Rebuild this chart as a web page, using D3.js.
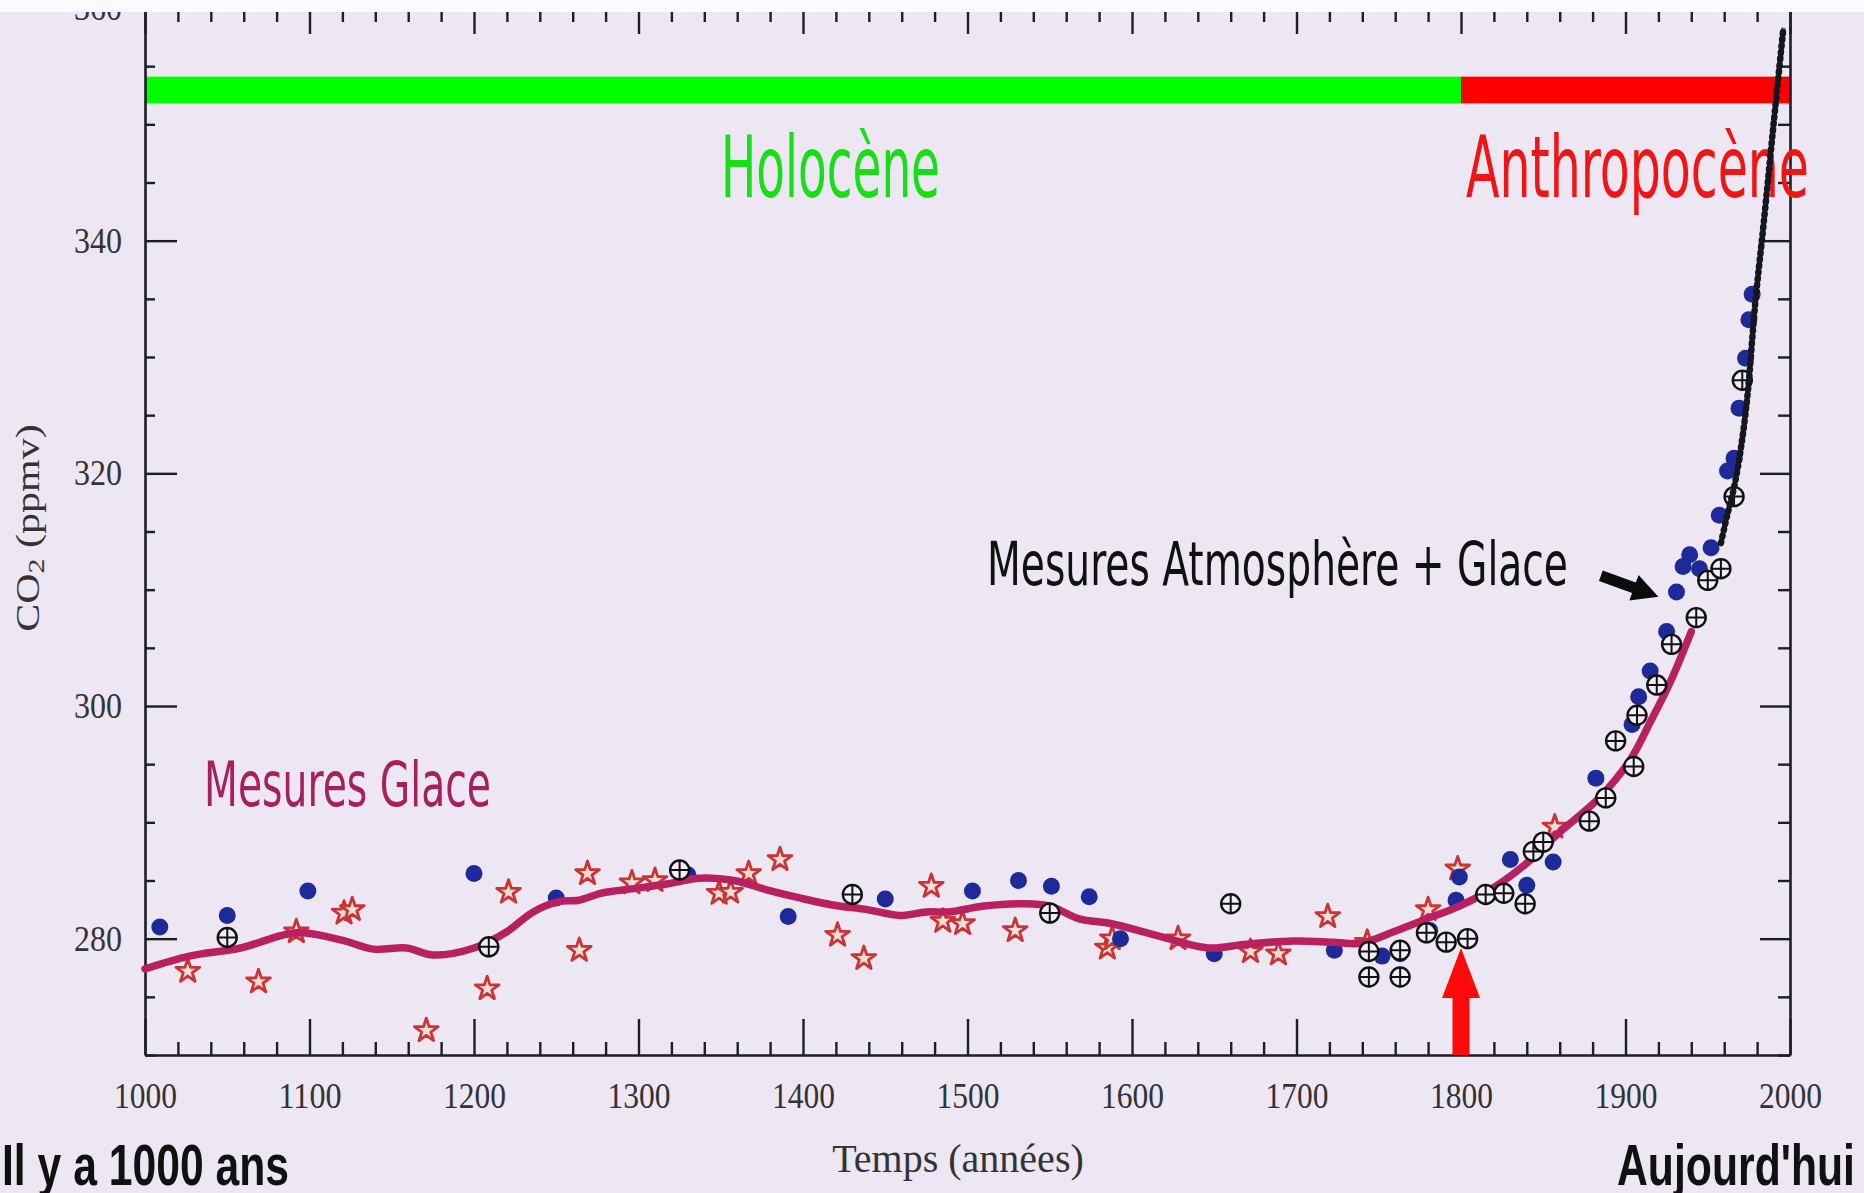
<!DOCTYPE html>
<html>
<head>
<meta charset="utf-8">
<script src="https://cdn.jsdelivr.net/npm/d3@7"></script>
<style>
body { margin: 0; background: #ece8f3; }
svg { display: block; }
</style>
</head>
<body>
<svg id="chart" width="1864" height="1193"></svg>
<script>
// axis ticks
var xMajor = [1000, 1100, 1200, 1300, 1400, 1500, 1600, 1700, 1800, 1900, 2000];
var xLabels = ["1000", "1100", "1200", "1300", "1400", "1500", "1600", "1700", "1800", "1900", "2000"];
var yMajor = [280, 300, 320, 340, 360];
var yLabels = ["280", "300", "320", "340", "360"];

// periods (bar on top)
var periodNames = ["Holocène", "Anthropocène"];
var periodStart = [1000, 1800];
var periodEnd = [1800, 2000];
var periodColors = ["#00ff00", "#ff0000"];
var periodText = ["#14e014", "#f01414"];

// ice core smoothed curve
var splineYears = [1000, 1027, 1058, 1092, 1119, 1139, 1159, 1175, 1200, 1220, 1236, 1252, 1264, 1277, 1297, 1317, 1337, 1358, 1378, 1398, 1418, 1439, 1459, 1475, 1489, 1510, 1534, 1550, 1568, 1587, 1617, 1647, 1668, 1698, 1722, 1739, 1759, 1779, 1799, 1820, 1840, 1858, 1884, 1903, 1915, 1927, 1940];
var splineCO2 = [277.4, 278.5, 279.2, 280.5, 279.9, 279.1, 279.2, 278.6, 279.2, 280.6, 282.3, 283.2, 283.3, 283.9, 284.3, 284.7, 285.2, 285.0, 284.2, 283.5, 282.9, 282.5, 282.0, 282.3, 282.3, 282.8, 283.0, 282.8, 281.7, 281.3, 280.2, 279.2, 279.5, 279.8, 279.7, 279.6, 280.6, 281.7, 282.8, 284.4, 286.5, 288.9, 292.1, 295.4, 298.6, 302.0, 306.4];

// atmospheric record (dotted dark line)
var maunaYears = [1958, 1962, 1966, 1970, 1974, 1979, 1984, 1990, 1996];
var maunaCO2 = [314.0, 316.5, 318.8, 322.0, 326.5, 334.8, 341.5, 350.0, 358.3];

// blue filled dots
var blueYears = [1009, 1050, 1099, 1200, 1250, 1330, 1391, 1450, 1503, 1531, 1551, 1574, 1593, 1650, 1723, 1752, 1763, 1781, 1797, 1799, 1830, 1840, 1856, 1882, 1904, 1908, 1915, 1925, 1931, 1935, 1939, 1945, 1952, 1957, 1962, 1966, 1969, 1973, 1975, 1977];
var blueCO2 = [281.0, 282.0, 284.1, 285.6, 283.5, 285.5, 281.9, 283.4, 284.1, 285.0, 284.5, 283.6, 280.0, 278.7, 279.0, 278.5, 278.7, 280.7, 283.3, 285.3, 286.8, 284.6, 286.6, 293.8, 298.4, 300.8, 303.0, 306.4, 309.8, 312.0, 313.0, 311.8, 313.6, 316.4, 320.2, 321.3, 325.6, 329.9, 333.2, 335.4];

// red stars
var starYears = [1026, 1069, 1092, 1121, 1126, 1171, 1208, 1221, 1264, 1269, 1296, 1310, 1349, 1356, 1367, 1386, 1421, 1437, 1478, 1485, 1497, 1529, 1585, 1588, 1628, 1672, 1689, 1719, 1743, 1780, 1798, 1857];
var starCO2 = [277.2, 276.3, 280.6, 282.2, 282.5, 272.1, 275.7, 284.0, 279.0, 285.6, 284.8, 285.0, 283.9, 284.0, 285.6, 286.8, 280.3, 278.3, 284.5, 281.5, 281.3, 280.7, 279.2, 280.0, 280.0, 278.9, 278.7, 281.9, 279.7, 282.5, 286.0, 289.6];

// circled crosses
var crossYears = [1050, 1209, 1325, 1430, 1550, 1660, 1744, 1744, 1763, 1763, 1779, 1791, 1804, 1815, 1826, 1839, 1844, 1850, 1878, 1888, 1894, 1905, 1907, 1919, 1928, 1943, 1950, 1958, 1966, 1971];
var crossCO2 = [280.1, 279.3, 285.9, 283.8, 282.2, 283.0, 278.9, 276.7, 279.0, 276.7, 280.5, 279.7, 280.0, 283.8, 283.9, 283.0, 287.5, 288.3, 290.1, 292.1, 297.0, 294.8, 299.2, 301.8, 305.3, 307.6, 310.8, 311.8, 318.0, 328.0];

var svg = d3.select("#chart");
var x = d3.scaleLinear().domain([1000, 2000]).range([145, 1790]);
var y = d3.scaleLinear().domain([270, 360]).range([1055, 8]);
var axisColor = "#1e1e26";

svg.append("rect").attr("width", 1864).attr("height", 1193).attr("fill", "#ece7f3");

//period bars
svg.selectAll(".period")
	.data(periodNames)
	.enter()
	.append("rect")
	.attr("x", function (d, i) { return x(periodStart[i]); })
	.attr("width", function (d, i) { return x(periodEnd[i]) - x(periodStart[i]); })
	.attr("y", y(354.1))
	.attr("height", y(351.8) - y(354.1))
	.attr("fill", function (d, i) { return periodColors[i]; });

function styleAxis(g, keepDomain) {
	if (keepDomain) {
		g.select(".domain").attr("stroke", axisColor).attr("stroke-width", 2.6);
	} else {
		g.select(".domain").remove();
	}
	g.selectAll(".tick line").attr("stroke", axisColor).attr("stroke-width", 2.4);
}

//minor ticks
var xMinor = d3.range(1000, 2001, 20).filter(function (v) { return v % 100 != 0; });
var yMinor = d3.range(270, 361, 5).filter(function (v) { return v % 20 != 0; });

svg.append("g").attr("transform", "translate(0," + y(270) + ")")
	.call(d3.axisBottom(x).tickValues(xMinor).tickSize(-13).tickSizeOuter(0).tickFormat(""))
	.call(styleAxis, false);
svg.append("g").attr("transform", "translate(0," + y(360) + ")")
	.call(d3.axisTop(x).tickValues(xMinor).tickSize(-14).tickSizeOuter(0).tickFormat(""))
	.call(styleAxis, false);
svg.append("g").attr("transform", "translate(" + x(1000) + ",0)")
	.call(d3.axisLeft(y).tickValues(yMinor).tickSize(-10).tickSizeOuter(0).tickFormat(""))
	.call(styleAxis, false);
svg.append("g").attr("transform", "translate(" + x(2000) + ",0)")
	.call(d3.axisRight(y).tickValues(yMinor).tickSize(-12).tickSizeOuter(0).tickFormat(""))
	.call(styleAxis, false);

//major ticks + labels
var bottomAxis = svg.append("g").attr("transform", "translate(0," + y(270) + ")")
	.call(d3.axisBottom(x).tickValues(xMajor).tickSize(-36).tickSizeOuter(0).tickPadding(27)
		.tickFormat(function (d, i) { return xLabels[i]; }))
	.call(styleAxis, true);
bottomAxis.selectAll("text")
	.attr("font-family", "'Liberation Serif', 'DejaVu Serif', serif")
	.attr("font-size", 36)
	.attr("fill", "#333")
	.attr("textLength", 63)
	.attr("lengthAdjust", "spacingAndGlyphs");

svg.append("g").attr("transform", "translate(0," + y(360) + ")")
	.call(d3.axisTop(x).tickValues(xMajor).tickSize(-26).tickSizeOuter(0).tickFormat(""))
	.call(styleAxis, true);

var leftAxis = svg.append("g").attr("transform", "translate(" + x(1000) + ",0)")
	.call(d3.axisLeft(y).tickValues(yMajor).tickSize(-32).tickSizeOuter(0).tickPadding(23)
		.tickFormat(function (d, i) { return yLabels[i]; }))
	.call(styleAxis, true);
leftAxis.selectAll("text")
	.attr("font-family", "'Liberation Serif', 'DejaVu Serif', serif")
	.attr("font-size", 36)
	.attr("fill", "#333")
	.attr("textLength", 48)
	.attr("lengthAdjust", "spacingAndGlyphs");

svg.append("g").attr("transform", "translate(" + x(2000) + ",0)")
	.call(d3.axisRight(y).tickValues(yMajor).tickSize(-30).tickSizeOuter(0).tickFormat(""))
	.call(styleAxis, true);

//axis titles
var yTitle = svg.append("text")
	.attr("transform", "translate(39,528) rotate(-90) scale(1,0.78)")
	.attr("text-anchor", "middle")
	.attr("font-family", "'Liberation Serif', 'DejaVu Serif', serif")
	.attr("font-size", 42)
	.attr("fill", "#333");
yTitle.append("tspan").text("CO");
yTitle.append("tspan").attr("font-size", 30).attr("dy", 7).text("2");
yTitle.append("tspan").attr("dy", -7).text(" (ppmv)");

svg.append("text")
	.attr("x", 958).attr("y", 1172)
	.attr("text-anchor", "middle")
	.attr("font-family", "'Liberation Serif', 'DejaVu Serif', serif")
	.attr("font-size", 40)
	.attr("fill", "#333")
	.text("Temps (années)");

//annotation texts
var condensed = "'DejaVu Sans Condensed', 'DejaVu Sans', sans-serif";
var periodLabelX = [721, 1466];
var periodLabelW = [219, 343];
svg.selectAll(".plabel")
	.data(periodNames)
	.enter()
	.append("text")
	.attr("x", function (d, i) { return periodLabelX[i]; })
	.attr("y", 197)
	.attr("font-family", condensed)
	.attr("font-size", 85)
	.attr("fill", function (d, i) { return periodText[i]; })
	.attr("textLength", function (d, i) { return periodLabelW[i]; })
	.attr("lengthAdjust", "spacingAndGlyphs")
	.text(function (d) { return d; });

svg.append("text")
	.attr("x", 204).attr("y", 806)
	.attr("font-family", condensed)
	.attr("font-size", 62)
	.attr("fill", "#a81f5e")
	.attr("textLength", 287)
	.attr("lengthAdjust", "spacingAndGlyphs")
	.text("Mesures Glace");

svg.append("text")
	.attr("x", 987).attr("y", 585)
	.attr("font-family", condensed)
	.attr("font-size", 60)
	.attr("fill", "#111")
	.attr("textLength", 581)
	.attr("lengthAdjust", "spacingAndGlyphs")
	.text("Mesures Atmosphère + Glace");

//markers
var star = d3.symbol().type(d3.symbolStar).size(175);
svg.selectAll(".star")
	.data(starYears)
	.enter()
	.append("path")
	.attr("d", star)
	.attr("transform", function (d, i) { return "translate(" + x(d) + "," + y(starCO2[i]) + ")"; })
	.attr("fill", "#f5dcd8")
	.attr("stroke", "#cc3434")
	.attr("stroke-width", 2.8)
	.attr("stroke-linejoin", "round");

svg.selectAll(".blue")
	.data(blueYears)
	.enter()
	.append("circle")
	.attr("cx", function (d) { return x(d); })
	.attr("cy", function (d, i) { return y(blueCO2[i]); })
	.attr("r", 8.5)
	.attr("fill", "#1e2a9a");

var curve = d3.line()
	.x(function (d) { return x(d); })
	.y(function (d, i) { return y(splineCO2[i]); })
	.curve(d3.curveCatmullRom.alpha(0.5));
svg.append("path")
	.attr("d", curve(splineYears))
	.attr("fill", "none")
	.attr("stroke", "#b82060")
	.attr("stroke-width", 7.5)
	.attr("stroke-linecap", "round");

var crosses = svg.selectAll(".cross")
	.data(crossYears)
	.enter()
	.append("g")
	.attr("transform", function (d, i) { return "translate(" + x(d) + "," + y(crossCO2[i]) + ")"; });
crosses.append("circle")
	.attr("r", 9.5)
	.attr("fill", "#f1edf6")
	.attr("stroke", "#111")
	.attr("stroke-width", 2.4);
crosses.append("path")
	.attr("d", "M-9.5,0H9.5M0,-9.5V9.5")
	.attr("stroke", "#111")
	.attr("stroke-width", 2);

var mauna = d3.line()
	.x(function (d) { return x(d); })
	.y(function (d, i) { return y(maunaCO2[i]); })
	.curve(d3.curveCatmullRom.alpha(0.5));
svg.append("path")
	.attr("d", mauna(maunaYears))
	.attr("fill", "none")
	.attr("stroke", "#5e6578")
	.attr("stroke-width", 4.5);
svg.append("path")
	.attr("d", mauna(maunaYears))
	.attr("fill", "none")
	.attr("stroke", "#15171e")
	.attr("stroke-width", 6.5)
	.attr("stroke-linecap", "round")
	.attr("stroke-dasharray", "1.5,5");

//arrows
function arrowPoints(x0, y0, x1, y1, shaftW, headW, headL) {
	var dx = x1 - x0, dy = y1 - y0;
	var len = Math.sqrt(dx * dx + dy * dy);
	var ux = dx / len, uy = dy / len;
	var px = -uy, py = ux;
	var bx = x1 - ux * headL, by = y1 - uy * headL;
	var pts = [
		[x0 + px * shaftW / 2, y0 + py * shaftW / 2],
		[bx + px * shaftW / 2, by + py * shaftW / 2],
		[bx + px * headW / 2, by + py * headW / 2],
		[x1, y1],
		[bx - px * headW / 2, by - py * headW / 2],
		[bx - px * shaftW / 2, by - py * shaftW / 2],
		[x0 - px * shaftW / 2, y0 - py * shaftW / 2]
	];
	return pts.map(function (p) { return p.join(","); }).join(" ");
}

svg.append("polygon")
	.attr("points", arrowPoints(x(1800), y(270), x(1800), y(279.2), 17, 38, 50))
	.attr("fill", "#ff0a0a");

svg.append("polygon")
	.attr("points", arrowPoints(x(1885), y(311.2), x(1920), y(309.4), 11, 27, 26))
	.attr("fill", "#0c0c0c");

//white strip at the top of the photo
svg.append("rect").attr("width", 1864).attr("height", 12).attr("fill", "#fbfbfd");

//bottom captions
svg.append("text")
	.attr("x", 2).attr("y", 1185)
	.attr("font-family", "'Liberation Sans', Arial, sans-serif")
	.attr("font-weight", "bold")
	.attr("font-size", 58)
	.attr("fill", "#111")
	.attr("textLength", 287)
	.attr("lengthAdjust", "spacingAndGlyphs")
	.text("Il y a 1000 ans");

svg.append("text")
	.attr("x", 1617).attr("y", 1185)
	.attr("font-family", "'Liberation Sans', Arial, sans-serif")
	.attr("font-weight", "bold")
	.attr("font-size", 58)
	.attr("fill", "#111")
	.attr("textLength", 238)
	.attr("lengthAdjust", "spacingAndGlyphs")
	.text("Aujourd'hui");
</script>
</body>
</html>
